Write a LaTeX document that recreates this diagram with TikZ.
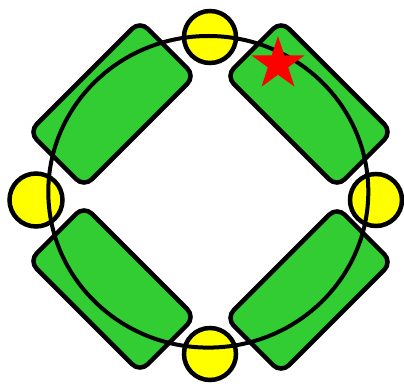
\documentclass[tikz,border=0pt]{standalone}
\definecolor{lgreen}{RGB}{50,205,50}
\definecolor{pyellow}{RGB}{255,255,0}
\definecolor{pred}{RGB}{255,0,0}
\begin{document}
\begin{tikzpicture}[x=1pt,y=1pt,
  greenbox/.style={draw=black,line width=4.5pt,fill=lgreen,rounded corners=11pt},
  yball/.style={draw=black,line width=4.5pt,fill=pyellow},
  ring/.style={draw=black,line width=4pt}]
\useasboundingbox (0,0) rectangle (404,383);
% green rounded rectangles
\begin{scope}[shift={(112,279)},rotate=45]
  \path[greenbox] (-78.5,-39) rectangle (78.5,39);
\end{scope}
\begin{scope}[shift={(309,279)},rotate=-45]
  \path[greenbox] (-78.5,-39) rectangle (78.5,39);
\end{scope}
\begin{scope}[shift={(112,94)},rotate=-45]
  \path[greenbox] (-78.5,-39) rectangle (78.5,39);
\end{scope}
\begin{scope}[shift={(309,93)},rotate=45]
  \path[greenbox] (-78.5,-39) rectangle (78.5,39);
\end{scope}
% yellow circles
\path[yball] (210,346) circle (26);
\path[yball] (210,29) circle (26);
\path[yball] (36,183) circle (26.5);
\path[yball] (376,183) circle (26);
% big ring
\path[ring] (208.3,191.2) ellipse [x radius=160, y radius=155.8];
% star
\fill[pred] (278,319)
  +(90:28) -- +(126:10.7) -- +(162:28) -- +(198:10.7) -- +(234:28)
  -- +(270:10.7) -- +(306:28) -- +(342:10.7) -- +(18:28) -- +(54:10.7) -- cycle;
\end{tikzpicture}
\end{document}
